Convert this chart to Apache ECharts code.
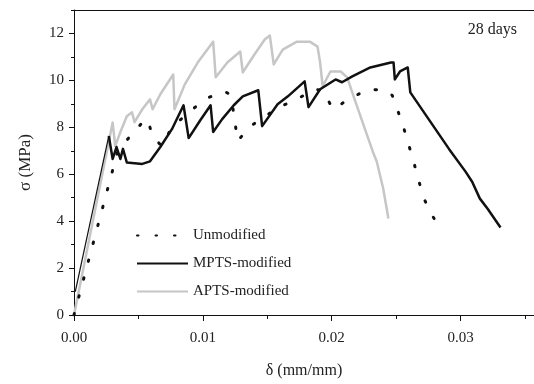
<!DOCTYPE html>
<html><head><meta charset="utf-8">
<script src="https://cdn.jsdelivr.net/npm/echarts@6/dist/echarts.min.js"></script>
<style>html,body{margin:0;padding:0;background:#fff}#c{width:534px;height:384px}</style>
</head><body><div id="c"></div>
<script>
// Data
const unmodX = [0,0.0034,0.0045,0.0054,0.0057,0.0061,0.0068,0.0076,0.0089,0.0103,0.0117,0.0121,0.0123,0.0127,0.0137,0.0159,0.0173,0.0186,0.0193,0.0201,0.0213,0.0228,0.0242,0.0247,0.0255,0.0263,0.0271,0.0277,0.0286];
const unmodY = [0,7.0,7.71,8.26,8.35,7.63,7.2,8.0,8.64,9.24,9.53,9.4,8.94,7.42,8.05,8.86,9.19,9.62,9.58,8.77,9.19,9.62,9.58,9.36,8.14,6.65,5.04,4.32,3.56];

const mptsX = [0.0001,0.0027,0.0030,0.0033,0.0036,0.0038,0.0041,0.0053,0.0059,0.0067,0.0076,0.0085,0.0089,0.0098,0.0106,0.0108,0.0115,0.0124,0.0131,0.0143,0.0146,0.0158,0.0166,0.0179,0.0182,0.0191,0.0203,0.0208,0.0216,0.0230,0.0246,0.0248,0.0249,0.0253,0.0259,0.0261,0.0291,0.0304,0.0309,0.0315,0.0321,0.0331];
const mptsY = [1.0,7.63,6.65,7.16,6.65,7.08,6.5,6.44,6.55,7.16,7.92,8.94,7.54,8.3,8.94,7.80,8.35,8.94,9.32,9.58,8.05,8.98,9.32,9.96,8.86,9.62,10.04,9.92,10.17,10.55,10.76,10.76,10.04,10.38,10.55,9.49,7.08,6.10,5.68,4.96,4.53,3.73];

const aptsX = [0,0.0030,0.0032,0.0036,0.0041,0.0045,0.0047,0.0053,0.0059,0.0061,0.0067,0.0077,0.0078,0.0086,0.0096,0.0108,0.0110,0.0119,0.0129,0.0131,0.0139,0.0148,0.0152,0.0155,0.0162,0.0173,0.0183,0.0189,0.0191,0.0193,0.0199,0.0207,0.0212,0.0217,0.0225,0.0232,0.0235,0.0240,0.0244];
const aptsY = [0,8.2,7.2,7.8,8.47,8.64,8.22,8.77,9.19,8.77,9.41,10.25,8.77,9.83,10.76,11.65,10.13,10.76,11.23,10.34,11.02,11.74,11.91,10.68,11.31,11.65,11.65,11.44,10.76,9.75,10.38,10.38,10.13,9.32,8.05,6.95,6.53,5.38,4.11];

const xMajorTicks = [0,0.01,0.02,0.03];
const xMinorTicks = [0.005,0.015,0.025,0.035];
const yMajorTicks = [0,2,4,6,8,10,12];
const yMinorTicks = [1,3,5,7,9,11,13];
const seriesNames = ['Unmodified','MPTS-modified','APTS-modified'];

const FONT = "'Liberation Serif','Times New Roman',serif";
const zip = (xs, ys) => xs.map((x, i) => [x, ys[i]]);
const axisLine = {show:true, onZero:false, lineStyle:{color:'#111', width:1}};
const txt = {fontFamily:FONT, fontSize:15, color:'#222'};

const chart = echarts.init(document.getElementById('c'), null, {renderer:'canvas'});
chart.setOption({
  animation:false,
  backgroundColor:'#fff',
  title:{text:'28 days', right:17, top:22, padding:0, textStyle:{fontFamily:FONT, fontSize:16, fontWeight:'normal', color:'#222'}},
  grid:{left:74, right:0, top:10, bottom:67, containLabel:false},
  legend:{
    data:seriesNames.map(n => ({name:n, itemStyle:{opacity:0}})),
    orient:'vertical', left:136, top:228, padding:0, itemWidth:51, itemHeight:14, itemGap:13,
    itemStyle:{opacity:0},
    textStyle:{fontFamily:FONT, fontSize:15, color:'#222'}
  },
  xAxis:[
    {type:'value', min:0, max:0.0357, position:'bottom', axisLine:axisLine,
     axisTick:{show:true, customValues:xMajorTicks, length:6, lineStyle:{color:'#111'}},
     axisLabel:{customValues:xMajorTicks, formatter:v=>v.toFixed(2), margin:16, ...txt},
     splitLine:{show:false},
     name:'δ (mm/mm)', nameLocation:'middle', nameGap:48, nameTextStyle:{...txt, fontSize:16}},
    {type:'value', min:0, max:0.0357, position:'bottom', axisLine:{show:false, onZero:false},
     axisTick:{show:true, customValues:xMinorTicks, length:4, lineStyle:{color:'#111'}},
     axisLabel:{show:false}, splitLine:{show:false}},
    {type:'value', min:0, max:0.0357, position:'top', axisLine:axisLine,
     axisTick:{show:false}, axisLabel:{show:false}, splitLine:{show:false}}
  ],
  yAxis:[
    {type:'value', min:0, max:13, position:'left', axisLine:axisLine,
     axisTick:{show:true, customValues:yMajorTicks, length:5, lineStyle:{color:'#111'}},
     axisLabel:{customValues:yMajorTicks, margin:10, ...txt},
     splitLine:{show:false},
     name:'σ (MPa)', nameLocation:'middle', nameGap:40, nameRotate:90, nameTextStyle:{...txt, fontSize:17}},
    {type:'value', min:0, max:13, position:'left', axisLine:{show:false, onZero:false},
     axisTick:{show:true, customValues:yMinorTicks, length:3, lineStyle:{color:'#111'}},
     axisLabel:{show:false}, splitLine:{show:false}}
  ],
  series:[
    {name:'APTS-modified', type:'line', symbol:'none', data:zip(aptsX, aptsY),
     lineStyle:{color:'#c6c6c6', width:2.5, join:'round'}, itemStyle:{color:'#c6c6c6'}, z:2},
    {name:'Unmodified', type:'line', symbol:'none', data:zip(unmodX, unmodY),
     lineStyle:{color:'#111', width:3, type:[1.5,17], cap:'round'}, itemStyle:{color:'#111'}, z:3},
    {name:'MPTS-initial', type:'line', symbol:'none', data:zip(mptsX.slice(0,2), mptsY.slice(0,2)),
     lineStyle:{color:'#111', width:1.2}, itemStyle:{color:'#111'}, z:4},
    {name:'MPTS-modified', type:'line', symbol:'none', data:zip(mptsX.slice(1), mptsY.slice(1)),
     lineStyle:{color:'#111', width:2.5, join:'round'}, itemStyle:{color:'#111'}, z:4}
  ]
});
</script></body></html>
